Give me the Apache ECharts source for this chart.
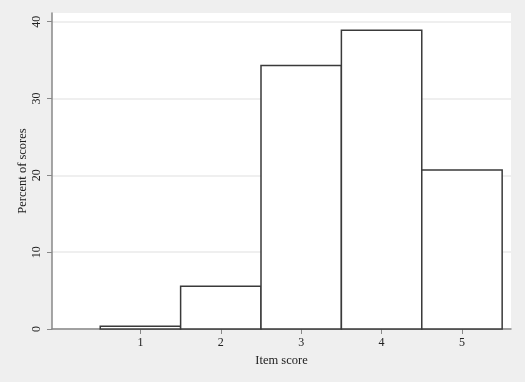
<!DOCTYPE html>
<html>
<head>
<meta charset="utf-8">
<script src="https://cdn.jsdelivr.net/npm/echarts@6/dist/echarts.min.js"></script>
<style>
html,body{margin:0;padding:0;background:#efefef;}
#chart{width:525px;height:382px;}
</style>
</head>
<body>
<div id="chart"></div>
<script>
const scores = [1, 2, 3, 4, 5];
const percents = [0.35, 5.55, 34.3, 38.9, 20.7];
const xTickValues = [1, 2, 3, 4, 5];
const yTickValues = [0, 10, 20, 30, 40];
const xTitle = 'Item score';
const yTitle = 'Percent of scores';

const font = 'Liberation Serif';
const chart = echarts.init(document.getElementById('chart'));
chart.setOption({
  backgroundColor: '#efefef',
  animation: false,
  grid: {left: 52, top: 13, right: 14, bottom: 53, show: true, backgroundColor: '#ffffff', borderWidth: 0,
         containLabel: false, outerBoundsMode: 'none'},
  xAxis: {
    type: 'value', min: -0.1, max: 5.61,
    name: xTitle, nameLocation: 'middle', nameGap: 25, nameMoveOverlap: false,
    nameTextStyle: {fontFamily: font, fontSize: 12.5, color: '#222'},
    axisLine: {show: true, onZero: false, lineStyle: {color: '#888', width: 1.5}},
    axisTick: {show: true, length: 5, customValues: xTickValues, lineStyle: {color: '#888'}},
    axisLabel: {customValues: xTickValues, margin: 8, fontFamily: font, fontSize: 12, color: '#222'},
    splitLine: {show: false}
  },
  yAxis: {
    type: 'value', min: 0, max: 41.13,
    name: yTitle, nameLocation: 'middle', nameGap: 23, nameMoveOverlap: false,
    nameTextStyle: {fontFamily: font, fontSize: 12.5, color: '#222'},
    axisLine: {show: true, onZero: false, lineStyle: {color: '#888', width: 1.5}},
    axisTick: {show: true, length: 5, customValues: yTickValues, lineStyle: {color: '#888'}},
    axisLabel: {customValues: yTickValues, rotate: 90, margin: 9, fontFamily: font, fontSize: 12, color: '#222'},
    splitLine: {show: true, lineStyle: {color: '#eaeaea', width: 1.5}}
  },
  series: [{
    type: 'custom',
    data: scores.map((s, i) => [s, percents[i]]),
    renderItem: function (params, api) {
      const x = api.value(0), v = api.value(1);
      const p0 = api.coord([x - 0.5, 0]);
      const p1 = api.coord([x + 0.5, v]);
      return {
        type: 'rect',
        shape: {x: p0[0], y: p1[1], width: p1[0] - p0[0], height: p0[1] - p1[1]},
        style: {fill: '#ffffff', stroke: '#3a3a3a', lineWidth: 1.5}
      };
    }
  }]
});
</script>
</body>
</html>
